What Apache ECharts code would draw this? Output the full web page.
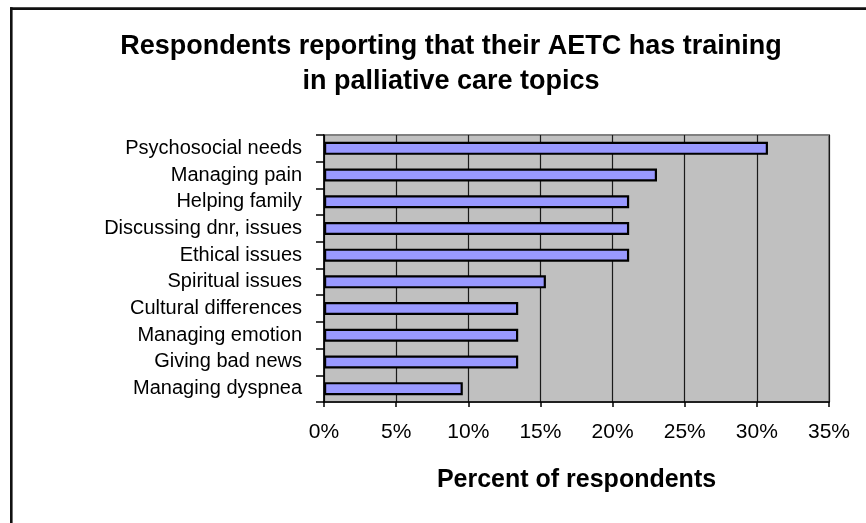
<!DOCTYPE html>
<html>
<head>
<meta charset="utf-8">
<script src="https://cdn.jsdelivr.net/npm/echarts@6/dist/echarts.min.js"></script>
<style>
  html, body { margin: 0; padding: 0; background: #ffffff; }
  #chart { width: 866px; height: 523px; }
</style>
</head>
<body>
<div id="chart"></div>
<script>
// Palliative care training topics, percent of respondents
const topics = [
  'Psychosocial needs',
  'Managing pain',
  'Helping family',
  'Discussing dnr, issues',
  'Ethical issues',
  'Spiritual issues',
  'Cultural differences',
  'Managing emotion',
  'Giving bad news',
  'Managing dyspnea'
];
const percents = [30.77, 23.08, 21.15, 21.15, 21.15, 15.38, 13.46, 13.46, 13.46, 9.62];
const xTicks = [0, 5, 10, 15, 20, 25, 30, 35];

const titleText = 'Respondents reporting that their AETC has training\nin palliative care topics';
const xAxisTitle = 'Percent of respondents';

const FONT = '"Liberation Sans", Arial, sans-serif';

const chart = echarts.init(document.getElementById('chart'), null, { renderer: 'canvas' });

chart.setOption({
  backgroundColor: '#ffffff',
  animation: false,
  title: {
    text: titleText,
    left: 446,
    top: 24,
    textAlign: 'center',
    textStyle: {
      fontFamily: FONT,
      fontSize: 27,
      fontWeight: 'bold',
      color: '#000000',
      lineHeight: 35
    }
  },
  graphic: [
    // chart frame: left and top edges
    { type: 'line', shape: { x1: 11.3, y1: 7.3, x2: 11.3, y2: 523 }, style: { stroke: '#111', lineWidth: 2.6 } },
    { type: 'line', shape: { x1: 10, y1: 8.6, x2: 866, y2: 8.6 }, style: { stroke: '#111', lineWidth: 2.6 } }
  ],
  grid: {
    left: 324,
    right: 37,
    top: 135,
    bottom: 121,
    show: true,
    backgroundColor: '#C0C0C0',
    borderColor: '#808080',
    borderWidth: 2
  },
  xAxis: {
    type: 'value',
    min: xTicks[0],
    max: xTicks[xTicks.length - 1],
    interval: 5,
    name: xAxisTitle,
    nameLocation: 'middle',
    nameGap: 66,
    nameTextStyle: {
      fontFamily: FONT,
      fontSize: 25,
      fontWeight: 'bold',
      color: '#000000'
    },
    axisLine: { show: true, lineStyle: { color: '#000000', width: 1.5 } },
    axisTick: { show: true, length: 5, lineStyle: { color: '#000000', width: 1.5 } },
    axisLabel: {
      margin: 20,
      fontFamily: FONT,
      fontSize: 21,
      color: '#000000',
      formatter: v => v + '%'
    },
    splitLine: { show: true, lineStyle: { color: '#1a1a1a', width: 1.2 } }
  },
  yAxis: {
    type: 'category',
    inverse: true,
    data: topics,
    axisLine: { show: true, lineStyle: { color: '#000000', width: 1.5 } },
    axisTick: { show: true, length: 8, lineStyle: { color: '#000000', width: 1.5 } },
    axisLabel: {
      margin: 22,
      fontFamily: FONT,
      fontSize: 20,
      color: '#000000'
    },
    splitLine: { show: false }
  },
  series: [{
    type: 'bar',
    data: percents,
    barWidth: 13,
    itemStyle: {
      color: '#9999FF',
      borderColor: '#000000',
      borderWidth: 2.2
    }
  }]
});
</script>
</body>
</html>
